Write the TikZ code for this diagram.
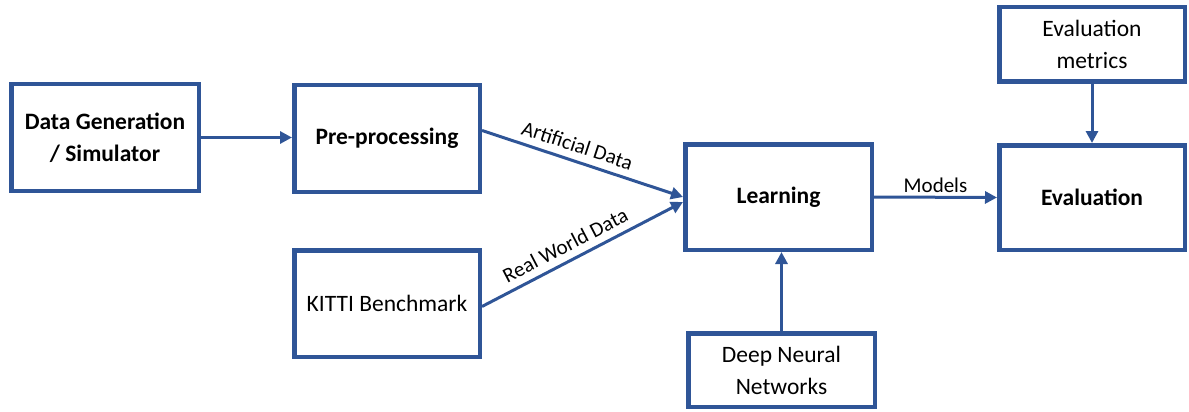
\documentclass[tikz,border=0pt]{standalone}
\usepackage{fontspec}
\setmainfont{Carlito}
\usetikzlibrary{arrows.meta}
\definecolor{lineblue}{RGB}{47,85,151}
\tikzset{
  box/.style={draw=lineblue, line width=4.5pt, inner sep=0pt, align=center,
    font=\fontsize{23.5}{32}\selectfont, text=black},
  bbox/.style={box, font=\fontsize{23.5}{32}\selectfont\bfseries},
  conn/.style={draw=lineblue, line width=3pt, -{Triangle[length=12pt,width=12pt]}},
  lbl/.style={font=\fontsize{21}{24}\selectfont, text=black, sloped, above, inner sep=7pt}
}
\begin{document}
\begin{tikzpicture}[x=1pt,y=-1pt]
\useasboundingbox (0,0) rectangle (1189,412);
\node[bbox, minimum width=187.5pt, minimum height=106.5pt] (dg) at (105,137.5) {Data Generation\\/ Simulator};
\node[bbox, minimum width=185.5pt, minimum height=106.5pt] (pre) at (387,138.5) {Pre-processing};
\node[box, minimum width=185.5pt, minimum height=106.5pt] (kitti) at (387,303.5) {KITTI Benchmark};
\node[bbox, minimum width=186.5pt, minimum height=105.5pt] (learn) at (778.5,197) {Learning};
\node[bbox, minimum width=185.5pt, minimum height=104.5pt] (eval) at (1092,197.5) {Evaluation};
\node[box, minimum width=185.5pt, minimum height=74.5pt] (met) at (1092,44.5) {Evaluation\\metrics};
\node[box, minimum width=186.5pt, minimum height=73.5pt] (dnn) at (781.5,370) {Deep Neural\\Networks};

\draw[conn] (dg.east) -- (dg.east -| pre.west);
\draw[conn] ([yshift=8pt]pre.east) -- node[lbl, pos=0.45] {Artificial Data} (learn.west);
\draw[conn] ([yshift=-3pt]kitti.east) -- node[lbl, pos=0.45] {Real World Data} ([yshift=-5pt]learn.west);
\draw[conn] (learn.east) -- node[font=\fontsize{21}{24}\selectfont, text=black, above, inner sep=3pt] {Models} (eval.west);
\draw[conn] (met.south) -- (eval.north);
\draw[conn] (dnn.north) -- (dnn.north |- learn.south);
\end{tikzpicture}
\end{document}
